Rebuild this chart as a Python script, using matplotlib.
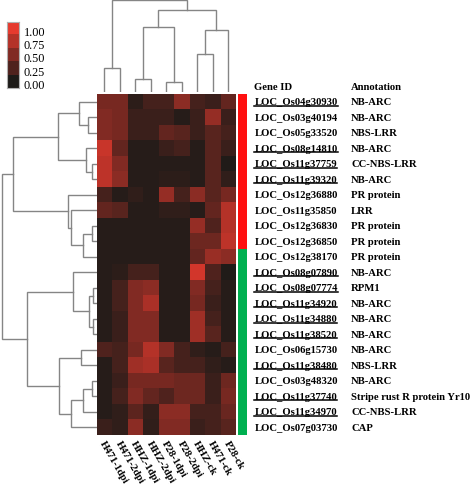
import numpy as np
import matplotlib
matplotlib.use("Agg")
import matplotlib.pyplot as plt
from matplotlib.colors import LinearSegmentedColormap, ListedColormap
from matplotlib.transforms import blended_transform_factory
from matplotlib.lines import Line2D

plt.rcParams['font.family'] = ['Liberation Serif', 'DejaVu Serif']

# ---------------- data ----------------
samples = ["H471-1dpi", "H471-2dpi", "HHZ-1dpi", "HHZ-2dpi", "P28-1dpi",
           "P28-2dpi", "HHZ-ck", "H471-ck", "P28-ck"]

gene_ids = ["LOC_Os04g30930", "LOC_Os03g40194", "LOC_Os05g33520", "LOC_Os08g14810",
            "LOC_Os11g37759", "LOC_Os11g39320", "LOC_Os12g36880", "LOC_Os11g35850",
            "LOC_Os12g36830", "LOC_Os12g36850", "LOC_Os12g38170", "LOC_Os08g07890",
            "LOC_Os08g07774", "LOC_Os11g34920", "LOC_Os11g34880", "LOC_Os11g38520",
            "LOC_Os06g15730", "LOC_Os11g38480", "LOC_Os03g48320", "LOC_Os11g37740",
            "LOC_Os11g34970", "LOC_Os07g03730"]

annotations = ["NB-ARC", "NB-ARC", "NBS-LRR", "NB-ARC", "CC-NBS-LRR", "NB-ARC",
               "PR protein", "LRR", "PR protein", "PR protein", "PR protein", "NB-ARC",
               "RPM1", "NB-ARC", "NB-ARC", "NB-ARC", "NB-ARC", "NBS-LRR", "NB-ARC",
               "Stripe rust R protein Yr10", "CC-NBS-LRR", "CAP"]

underlined = [1, 0, 0, 1, 1, 1, 0, 0, 0, 0, 0, 1, 1, 1, 1, 1, 0, 1, 0, 1, 1, 0]

groups = [0] * 10 + [1] * 12

values = np.array([
    [0.45, 0.45, 0.08, 0.20, 0.20, 0.55, 0.20, 0.15, 0.35],
    [0.50, 0.45, 0.15, 0.15, 0.15, 0.05, 0.15, 0.60, 0.15],
    [0.50, 0.45, 0.15, 0.15, 0.35, 0.30, 0.15, 0.30, 0.20],
    [0.85, 0.35, 0.05, 0.05, 0.15, 0.20, 0.05, 0.30, 0.15],
    [0.80, 0.50, 0.05, 0.05, 0.05, 0.05, 0.05, 0.30, 0.02],
    [0.80, 0.55, 0.05, 0.05, 0.08, 0.08, 0.05, 0.30, 0.10],
    [0.20, 0.05, 0.10, 0.05, 0.60, 0.20, 0.55, 0.30, 0.45],
    [0.35, 0.30, 0.05, 0.05, 0.10, 0.10, 0.05, 0.35, 0.75],
    [0.05, 0.05, 0.05, 0.05, 0.05, 0.05, 0.60, 0.25, 0.75],
    [0.05, 0.05, 0.05, 0.05, 0.05, 0.05, 0.40, 0.40, 0.80],
    [0.05, 0.05, 0.05, 0.05, 0.05, 0.05, 0.35, 0.62, 0.55],
    [0.05, 0.08, 0.20, 0.20, 0.05, 0.05, 0.90, 0.25, 0.02],
    [0.05, 0.20, 0.50, 0.55, 0.05, 0.05, 0.50, 0.20, 0.05],
    [0.05, 0.20, 0.50, 0.70, 0.05, 0.05, 0.45, 0.15, 0.05],
    [0.05, 0.15, 0.50, 0.50, 0.05, 0.05, 0.65, 0.20, 0.05],
    [0.05, 0.15, 0.50, 0.50, 0.05, 0.05, 0.65, 0.30, 0.05],
    [0.25, 0.20, 0.45, 0.75, 0.50, 0.20, 0.10, 0.05, 0.20],
    [0.05, 0.20, 0.65, 0.70, 0.30, 0.20, 0.20, 0.10, 0.05],
    [0.05, 0.15, 0.45, 0.45, 0.45, 0.40, 0.40, 0.15, 0.40],
    [0.05, 0.20, 0.50, 0.35, 0.25, 0.40, 0.40, 0.15, 0.45],
    [0.05, 0.10, 0.32, 0.12, 0.55, 0.55, 0.20, 0.20, 0.38],
    [0.15, 0.10, 0.55, 0.10, 0.50, 0.50, 0.15, 0.20, 0.30],
])

# linkage trees: (child_a, child_b, height)
col_links = [(0, 1, 24), (2, 3, 13), (4, 5, 10), (10, 11, 65), (6, 7, 38),
             (13, 8, 62), (12, 14, 82), (9, 15, 92)]

row_links = [(1, 2, 8.4), (0, 22, 17.4), (4, 5, 5), (3, 24, 10.7), (23, 25, 38.4),
             (8, 9, 5), (27, 10, 14), (7, 28, 26), (6, 29, 28.4), (26, 30, 83.4),
             (12, 13, 4), (14, 15, 4), (32, 33, 7.4), (11, 34, 23.4), (16, 17, 16),
             (18, 19, 5), (37, 20, 13.4), (38, 21, 26), (36, 39, 37.7), (35, 40, 69.4),
             (31, 41, 95)]

cbar_ticks = [1.00, 0.75, 0.50, 0.25, 0.00]

# ---------------- figure ----------------
W, H = 472, 485
fig = plt.figure(figsize=(W / 100, H / 100), dpi=100)


def px_axes(x0, y0, x1, y1):
    return fig.add_axes([x0 / W, 1 - y1 / H, (x1 - x0) / W, (y1 - y0) / H])


cmap = LinearSegmentedColormap.from_list("blkred", ["#1d1b18", "#e63a2e"])

hx0, hy0, hx1, hy1 = 96.7, 95, 235.7, 436
ax = px_axes(hx0, hy0, hx1, hy1)
nrows, ncols = values.shape
ax.imshow(values, cmap=cmap, vmin=0, vmax=1, aspect='auto',
          extent=(0, ncols, nrows, 0), interpolation='nearest')
ax.set_xlim(0, ncols)
ax.set_ylim(nrows, 0)
ax.axis('off')

# side colour bar
sax = px_axes(237.7, hy0, 246.7, hy1)
sax.imshow(np.array(groups)[:, None], cmap=ListedColormap(['#ff1010', '#00b050']),
           aspect='auto', extent=(0, 1, nrows, 0), interpolation='nearest', vmin=0, vmax=1)
sax.axis('off')

lc = '#858585'


def draw_tree(axis, links, n, orient):
    pos = {i: i + 0.5 for i in range(n)}
    hgt = {i: 0.0 for i in range(n)}
    for k, (a, b, h) in enumerate(links):
        idx = n + k
        pa, pb = pos[a], pos[b]
        ha_, hb_ = hgt[a], hgt[b]
        if orient == 'top':
            axis.plot([pa, pa, pb, pb], [ha_, h, h, hb_], color=lc, lw=1.0,
                      solid_joinstyle='miter')
        else:
            axis.plot([ha_, h, h, hb_], [pa, pa, pb, pb], color=lc, lw=1.0,
                      solid_joinstyle='miter')
        pos[idx] = (pa + pb) / 2
        hgt[idx] = h


# top dendrogram
tax = px_axes(hx0, 0, hx1, 93)
draw_tree(tax, col_links, ncols, 'top')
tax.set_xlim(0, ncols)
tax.set_ylim(0, 93)
tax.axis('off')

# left dendrogram
lax = px_axes(0, hy0, hx0, hy1)
draw_tree(lax, row_links, nrows, 'left')
lax.set_ylim(nrows, 0)
lax.set_xlim(96.7, 0)
lax.axis('off')

# colour key
cax = px_axes(6.7, 22.7, 19.3, 89.3)
cax.imshow(np.array(cbar_ticks)[:, None], cmap=cmap, vmin=0, vmax=1, aspect='auto',
           extent=(0, 1, len(cbar_ticks), 0), interpolation='nearest')
cax.set_xlim(0, 1)
cax.set_ylim(len(cbar_ticks), 0)
for s in cax.spines.values():
    s.set_color('#b0b0b0')
    s.set_linewidth(0.8)
cax.set_xticks([])
cax.set_yticks([i + 0.65 for i in range(len(cbar_ticks))])
cax.set_yticklabels([f"{v:.2f}" for v in cbar_ticks], fontsize=8.8)
cax.yaxis.tick_right()
cax.tick_params(axis='y', length=0, pad=3)

# labels
tr_rows = blended_transform_factory(fig.transFigure, ax.transData)
fs = 7.7
fig.text(254.3 / W, -0.5, "Gene ID", transform=tr_rows, fontsize=fs, fontweight='bold',
         ha='left', va='center')
fig.text(351 / W, -0.5, "Annotation", transform=tr_rows, fontsize=fs, fontweight='bold',
         ha='left', va='center')
gene_texts = []
for i, (g, a) in enumerate(zip(gene_ids, annotations)):
    t = fig.text(254.3 / W, i + 0.5, g, transform=tr_rows, fontsize=fs, fontweight='bold',
                 ha='left', va='center')
    gene_texts.append(t)
    fig.text(351 / W, i + 0.5, a, transform=tr_rows, fontsize=fs, fontweight='bold',
             ha='left', va='center')

tr_cols = blended_transform_factory(ax.transData, fig.transFigure)
for j, s in enumerate(samples):
    fig.text(j + 0.35, 1 - 442 / H, s, transform=tr_cols, fontsize=fs, fontweight='bold',
             rotation=-60, rotation_mode='anchor', ha='left', va='center')

# underline selected gene IDs
fig.canvas.draw()
renderer = fig.canvas.get_renderer()
for t, u in zip(gene_texts, underlined):
    if u:
        bb = t.get_window_extent(renderer)
        y = (bb.y0 + 0.6) / H
        fig.add_artist(Line2D([bb.x0 / W, bb.x1 / W], [y, y], transform=fig.transFigure,
                              color='black', lw=1.1))

fig.savefig("out.png", dpi=100)
